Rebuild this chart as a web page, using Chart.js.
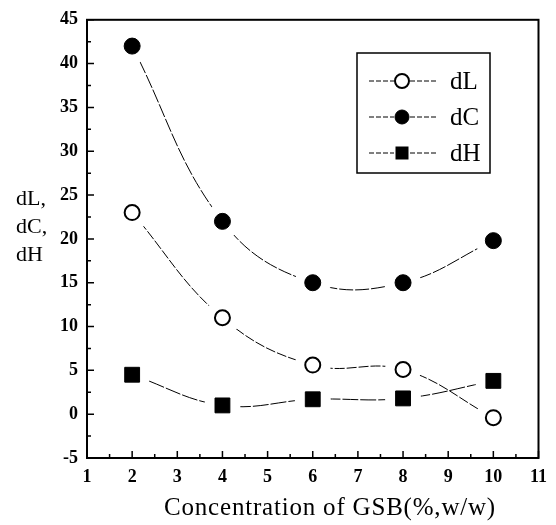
<!DOCTYPE html>
<html lang="en">
<head>
<meta charset="UTF-8">
<title>dL dC dH</title>
<script src="https://cdn.jsdelivr.net/npm/chart.js@4.4.1/dist/chart.umd.min.js"></script>
<style>
  body { margin: 0; background: #fff; }
  #wrap { width: 556px; height: 525px; position: relative; }
</style>
</head>
<body>
<div id="wrap"><canvas id="c"></canvas></div>
<script>
// data
const conc = [2, 4, 6, 8, 10];
const dL = [23, 11, 5.6, 5.1, -0.4];
const dC = [42, 22, 15, 15, 19.8];
const dH = [4.5, 1.0, 1.7, 1.8, 3.8];
const seriesNames = ['dL', 'dC', 'dH'];
const yTitleLines = ['dL,', 'dC,', 'dH'];
const xTitle = 'Concentration of GSB(%,w/w)';

const serif = "'Liberation Serif', 'DejaVu Serif', serif";

function pts(xs, ys) {
  return xs.map((x, i) => ({ x: x, y: ys[i] }));
}

// white halo round each marker so lines stop short, then redraw markers
const halo = {
  id: 'halo',
  afterDatasetsDraw(chart) {
    const ctx = chart.ctx;
    ctx.save();
    ctx.fillStyle = '#fff';
    chart.data.datasets.forEach((ds, i) => {
      chart.getDatasetMeta(i).data.forEach(p => {
        ctx.beginPath();
        ctx.arc(p.x, p.y, 18, 0, Math.PI * 2);
        ctx.fill();
      });
    });
    ctx.restore();
    chart.data.datasets.forEach((ds, i) => {
      chart.getDatasetMeta(i).data.forEach(p => p.draw(ctx, chart.chartArea));
    });
  }
};

// box, inward ticks, titles and legend
const decor = {
  id: 'decor',
  afterDraw(chart) {
    const ctx = chart.ctx;
    const a = chart.chartArea;
    const xs = chart.scales.x, ys = chart.scales.y;
    ctx.save();
    ctx.strokeStyle = '#000';
    ctx.lineWidth = 2;
    ctx.strokeRect(a.left, a.top, a.right - a.left, a.bottom - a.top);

    ctx.lineWidth = 1.5;
    ctx.beginPath();
    for (let v = 1; v <= 11; v += 0.5) {
      const px = xs.getPixelForValue(v);
      const len = Number.isInteger(v) ? 7 : 4;
      ctx.moveTo(px, a.bottom);
      ctx.lineTo(px, a.bottom - len);
    }
    for (let v = -5; v <= 45; v += 2.5) {
      const py = ys.getPixelForValue(v);
      const len = v % 5 === 0 ? 7 : 4;
      ctx.moveTo(a.left, py);
      ctx.lineTo(a.left + len, py);
    }
    ctx.stroke();

    ctx.fillStyle = '#000';
    // x title
    ctx.font = '25px ' + serif;
    ctx.letterSpacing = '0.8px';
    ctx.textAlign = 'center';
    ctx.textBaseline = 'alphabetic';
    ctx.fillText(xTitle, 330, 515);
    ctx.letterSpacing = '0px';

    // y title, three stacked lines
    ctx.font = '22px ' + serif;
    ctx.textAlign = 'left';
    ctx.textBaseline = 'middle';
    yTitleLines.forEach((t, i) => ctx.fillText(t, 16, 199 + i * 28));

    // legend
    ctx.lineWidth = 1.5;
    ctx.strokeRect(357, 53, 133, 120);
    chart.data.datasets.forEach((ds, i) => {
      const y = 81 + i * 36;
      ctx.lineWidth = 1;
      ctx.setLineDash([5, 2]);
      ctx.beginPath();
      ctx.moveTo(369, y);
      ctx.lineTo(394, y);
      ctx.moveTo(410, y);
      ctx.lineTo(436, y);
      ctx.stroke();
      ctx.setLineDash([]);
      ctx.lineWidth = ds.pointBorderWidth;
      ctx.fillStyle = ds.pointBackgroundColor;
      ctx.beginPath();
      if (ds.pointStyle === 'rect') {
        ctx.rect(402 - 6.5, y - 6.5, 13, 13);
        ctx.fillStyle = '#000';
        ctx.fill();
      } else {
        ctx.arc(402, y, 7, 0, Math.PI * 2);
        ctx.fill();
        ctx.stroke();
      }
      ctx.fillStyle = '#000';
      ctx.font = '25px ' + serif;
      ctx.fillText(ds.label, 450, y + 1);
    });
    ctx.restore();
  }
};

const common = {
  borderColor: '#000',
  borderWidth: 1,
  tension: 0.4,
  showLine: true,
  pointBorderColor: '#000'
};

new Chart(document.getElementById('c'), {
  type: 'scatter',
  data: {
    datasets: [
      Object.assign({}, common, {
        label: seriesNames[0], data: pts(conc, dL), borderDash: [10, 2],
        pointStyle: 'circle', pointRadius: 7.5, pointBorderWidth: 2, pointBackgroundColor: '#fff'
      }),
      Object.assign({}, common, {
        label: seriesNames[1], data: pts(conc, dC), borderDash: [14, 2],
        pointStyle: 'circle', pointRadius: 8, pointBorderWidth: 1, pointBackgroundColor: '#000'
      }),
      Object.assign({}, common, {
        label: seriesNames[2], data: pts(conc, dH), borderDash: [16, 2],
        pointStyle: 'rect', pointRadius: 10.5, pointBorderWidth: 1, pointBackgroundColor: '#000'
      })
    ]
  },
  options: {
    responsive: true,
    maintainAspectRatio: false,
    animation: false,
    layout: { padding: { top: 18, right: 15, left: 0, bottom: 0 } },
    plugins: { legend: { display: false }, tooltip: { enabled: false } },
    scales: {
      x: {
        type: 'linear', min: 1, max: 11,
        ticks: { stepSize: 1, color: '#000', font: { family: serif, size: 18, weight: 'bold' }, padding: 9, maxRotation: 0 },
        grid: { display: false, drawTicks: false },
        border: { display: false },
        afterFit: s => { s.height = 67; }
      },
      y: {
        min: -5, max: 45,
        ticks: { stepSize: 5, color: '#000', font: { family: serif, size: 18, weight: 'bold' }, padding: 9 },
        grid: { display: false, drawTicks: false },
        border: { display: false },
        afterFit: s => { s.width = 87; }
      }
    }
  },
  plugins: [halo, decor]
});
</script>
</body>
</html>
